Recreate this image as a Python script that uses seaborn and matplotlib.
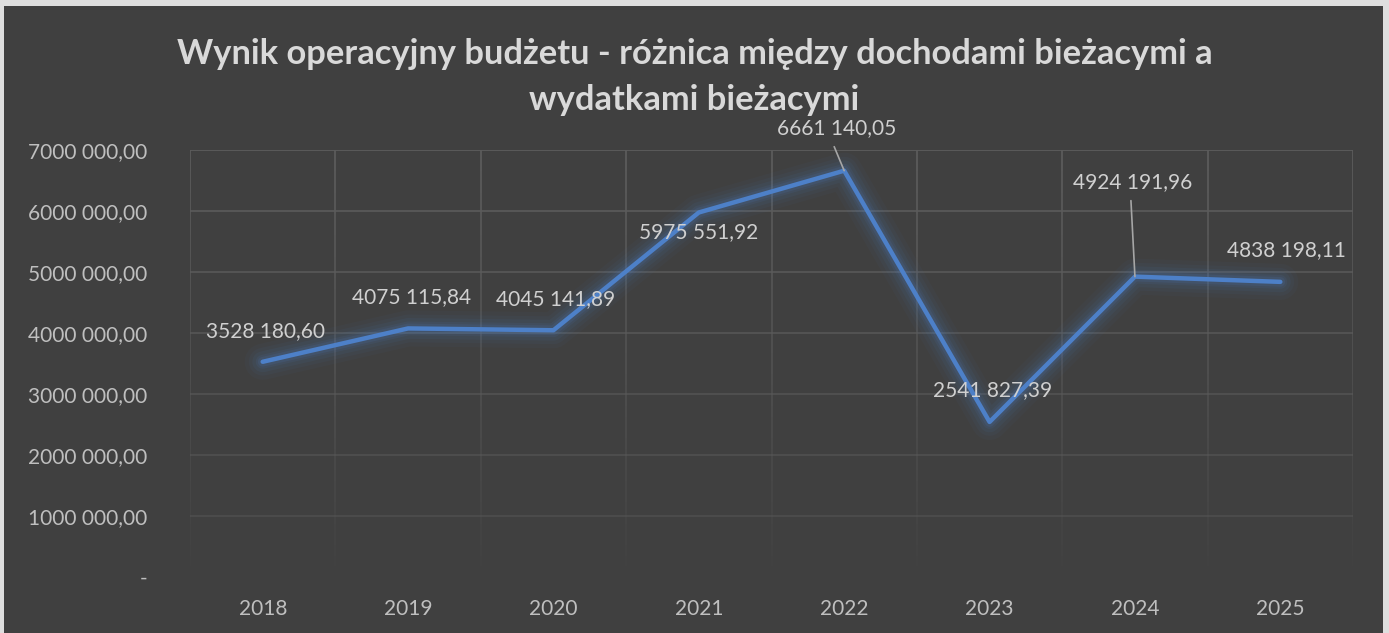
import numpy as np
import pandas as pd
import matplotlib
matplotlib.use("Agg")
import matplotlib.pyplot as plt
from matplotlib.patches import Rectangle
import seaborn as sns

years = ["2018", "2019", "2020", "2021", "2022", "2023", "2024", "2025"]
values = [3528180.60, 4075115.84, 4045141.89, 5975551.92,
          6661140.05, 2541827.39, 4924191.96, 4838198.11]
value_labels = ["3528 180,60", "4075 115,84", "4045 141,89", "5975 551,92",
                "6661 140,05", "2541 827,39", "4924 191,96", "4838 198,11"]
y_ticks = [0, 1e6, 2e6, 3e6, 4e6, 5e6, 6e6, 7e6]
y_tick_labels = ["-", "1000 000,00", "2000 000,00", "3000 000,00",
                 "4000 000,00", "5000 000,00", "6000 000,00", "7000 000,00"]
title = "Wynik operacyjny budżetu - różnica między dochodami bieżacymi a\nwydatkami bieżacymi"

BG = "#404040"
GRID = "#5c5c5c"
LINE = "#4d80c8"
TXT = "#d0d0d0"

sns.set_theme(style="dark")
plt.rcParams["font.family"] = ["Lato", "DejaVu Sans"]

W, H = 1389, 633
fig = plt.figure(figsize=(W / 100, H / 100), dpi=100, facecolor="#dedede")
fig.patches.append(Rectangle((4 / W, 0), (1383 - 4) / W, (H - 6) / H,
                             transform=fig.transFigure, facecolor=BG,
                             edgecolor="none", zorder=-5))

ax = fig.add_axes([190 / W, (H - 577) / H, (1353 - 190) / W, (577 - 150) / H])
ax.set_zorder(2)
ax.set_facecolor(BG)
ax.patch.set_alpha(0)

df = pd.DataFrame({"year": years, "value": values})
x = np.arange(len(years))

# soft glow under the series
for lw, a in [(26, 0.04), (20, 0.05), (15, 0.07), (10, 0.09), (7, 0.12)]:
    ax.plot(x, df["value"], color=LINE, lw=lw, alpha=a,
            solid_capstyle="round", solid_joinstyle="round", zorder=2)
sns.lineplot(x=x, y=df["value"], ax=ax, color=LINE, lw=3.2, zorder=3)

ax.set_xlim(-0.5, len(years) - 0.5)
ax.set_ylim(0, 7e6)

# gridlines that fade toward the bottom of the plot
for t in y_ticks[1:]:
    a = 0.35 + 0.65 * (t / 7e6)
    ax.axhline(t, color=GRID, lw=1.3, alpha=a, zorder=1)
segs = 40
for b in np.arange(len(years) + 1) - 0.5:
    edges = np.linspace(0, 7e6, segs + 1)
    for i in range(segs):
        a = max(0.0, (edges[i] / 7e6) ** 0.8)
        ax.plot([b, b], [edges[i], edges[i + 1]], color=GRID, lw=1.3,
                alpha=a, zorder=1, solid_capstyle="butt")

ax.set_xticks(x)
ax.set_xticklabels(years)
ax.set_yticks(y_ticks)
ax.set_yticklabels(y_tick_labels)
ax.tick_params(axis="x", colors=TXT, labelsize=15, length=0, pad=16)
ax.tick_params(axis="y", colors=TXT, labelsize=15, length=0, pad=31)
for lbl in ax.get_xticklabels() + ax.get_yticklabels():
    lbl.set_color("#bfbfbf")
ax.grid(False)
for s in ax.spines.values():
    s.set_visible(False)
ax.set_xlabel("")
ax.set_ylabel("")

# data labels (pixel offsets from each point)
offsets = [(3, 31), (3, 31), (2, 31), (0, -20),
           (-8, 43), (3, 32), (-2, 95), (6, 32)]
leaders = {4: (-10, 24), 6: (-4, 76)}
for i, (lab, v, off) in enumerate(zip(value_labels, values, offsets)):
    ax.annotate(lab, (x[i], v), xytext=off, textcoords="offset pixels",
                ha="center", va="center", color=TXT, fontsize=15, zorder=5)
    if i in leaders:
        ax.annotate("", (x[i], v), xytext=leaders[i], textcoords="offset pixels",
                    arrowprops=dict(arrowstyle="-", color="#a6a6a6", lw=1.2,
                                    shrinkA=0, shrinkB=0), zorder=4)

fig.text(0.5, (H - 77) / H, title, ha="center", va="center", color="#d9d9d9",
         fontsize=24.8, fontweight="bold", linespacing=1.5)

fig.savefig("out.png", dpi=100, facecolor=fig.get_facecolor())
